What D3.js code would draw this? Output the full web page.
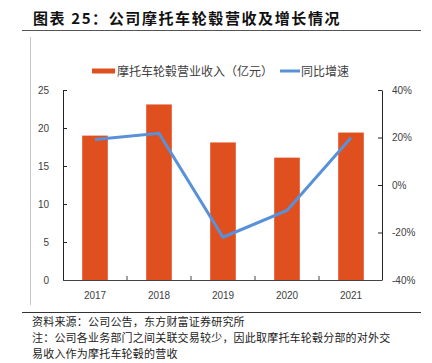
<!DOCTYPE html>
<html>
<head><meta charset="utf-8">
<style>
  body { margin: 0; background: #fff; }
  text { font-family: "Noto Sans CJK SC", "Noto Sans", sans-serif; }
  .axis text { font-family: "Liberation Sans", "Noto Sans", sans-serif; font-size: 10px; fill: #404040; }
</style>
</head>
<body>
<script src="https://d3js.org/d3.v7.min.js"></script>
<script>
var years = ["2017", "2018", "2019", "2020", "2021"];
var revenue = [19.0, 23.1, 18.1, 16.1, 19.4];     // 亿元
var growth = [19.2, 21.8, -22.0, -10.7, 19.9];     // %
var leftTicks = [0, 5, 10, 15, 20, 25];
var rightTicks = [-40, -20, 0, 20, 40];

var width = 432, height = 363;
var margin = {left: 63, right: 50, top: 90, bottom: 83};

var svg = d3.select("body").append("svg")
    .attr("width", width)
    .attr("height", height);

// title + rules
svg.append("text")
    .attr("x", 33).attr("y", 24)
    .style("font-size", "15px")
    .style("font-weight", "bold")
    .style("letter-spacing", "1.6px")
    .attr("fill", "#111")
    .text("图表 25：公司摩托车轮毂营收及增长情况");

svg.append("line").attr("x1", 22).attr("x2", 421).attr("y1", 30.5).attr("y2", 30.5)
    .attr("stroke", "#555").attr("stroke-width", 1);
svg.append("line").attr("x1", 30.5).attr("x2", 30.5).attr("y1", 37).attr("y2", 305)
    .attr("stroke", "#c8c8c8").attr("stroke-width", 1);
svg.append("line").attr("x1", 22).attr("x2", 421).attr("y1", 312.5).attr("y2", 312.5)
    .attr("stroke", "#333").attr("stroke-width", 1);

// scales
var x = d3.scaleBand()
    .domain(years)
    .range([margin.left, width - margin.right + 1])
    .paddingInner(0.6)
    .paddingOuter(0.3);

var yL = d3.scaleLinear().domain([0, 25]).range([280, 90]);
var yR = d3.scaleLinear().domain([-40, 40]).range([280, 90]);

var barColor = "#E0501E", lineColor = "#5891DA";

// bars
svg.append("g").selectAll("rect")
    .data(revenue)
    .enter().append("rect")
    .attr("x", (d, i) => x(years[i]))
    .attr("y", d => yL(d))
    .attr("width", x.bandwidth())
    .attr("height", d => yL(0) - yL(d))
    .attr("fill", barColor);

// line
var line = d3.line()
    .x((d, i) => x(years[i]) + x.bandwidth() / 2)
    .y(d => yR(d));

svg.append("path")
    .datum(growth)
    .attr("d", line)
    .attr("fill", "none")
    .attr("stroke", lineColor)
    .attr("stroke-width", 3)
    .attr("stroke-linejoin", "miter");

// axes
var gL = svg.append("g").attr("class", "axis")
    .attr("transform", "translate(" + margin.left + ",0)")
    .call(d3.axisLeft(yL).tickValues(leftTicks).tickSizeInner(-4).tickSizeOuter(0).tickPadding(14));
var gR = svg.append("g").attr("class", "axis")
    .attr("transform", "translate(" + (width - margin.right) + ",0)")
    .call(d3.axisRight(yR).tickValues(rightTicks).tickFormat(d => d + "%").tickSizeInner(-4).tickSizeOuter(0).tickPadding(10));

// bottom axis with ticks between categories
var xb = svg.append("g").attr("class", "axis");
xb.append("line").attr("x1", margin.left).attr("x2", width - margin.right)
    .attr("y1", 280.5).attr("y2", 280.5).attr("stroke", "#444");
var step = x.step();
xb.selectAll("line.tk")
    .data(years.slice(1))
    .enter().append("line")
    .attr("class", "tk")
    .attr("x1", d => x(d) - step * x.paddingInner() / 2)
    .attr("x2", d => x(d) - step * x.paddingInner() / 2)
    .attr("y1", 276).attr("y2", 280)
    .attr("stroke", "#444");
xb.selectAll("text")
    .data(years)
    .enter().append("text")
    .attr("x", d => x(d) + x.bandwidth() / 2)
    .attr("y", 299)
    .attr("text-anchor", "middle")
    .text(d => d);

svg.selectAll(".axis path.domain").attr("stroke", "#222");
svg.selectAll(".axis .tick line").attr("stroke", "#222");

// legend
var lg = svg.append("g").style("font-size", "12px");
lg.append("rect").attr("x", 92).attr("y", 68.5).attr("width", 23).attr("height", 5).attr("fill", barColor);
lg.append("text").attr("x", 117).attr("y", 75.5).attr("fill", "#404040").text("摩托车轮毂营业收入（亿元）");
lg.append("line").attr("x1", 280).attr("x2", 300).attr("y1", 71).attr("y2", 71)
    .attr("stroke", lineColor).attr("stroke-width", 3);
lg.append("text").attr("x", 301).attr("y", 75.5).attr("fill", "#404040").text("同比增速");

// source notes
var notes = [
  "资料来源：公司公告，东方财富证券研究所",
  "注：公司各业务部门之间关联交易较少，因此取摩托车轮毂分部的对外交",
  "易收入作为摩托车轮毂的营收"
];
svg.append("g").selectAll("text")
    .data(notes)
    .enter().append("text")
    .attr("x", 32)
    .attr("y", (d, i) => 326 + i * 16)
    .style("font-size", "11px")
    .style("letter-spacing", "0.2px")
    .attr("fill", "#222")
    .text(d => d);
</script>
</body>
</html>
